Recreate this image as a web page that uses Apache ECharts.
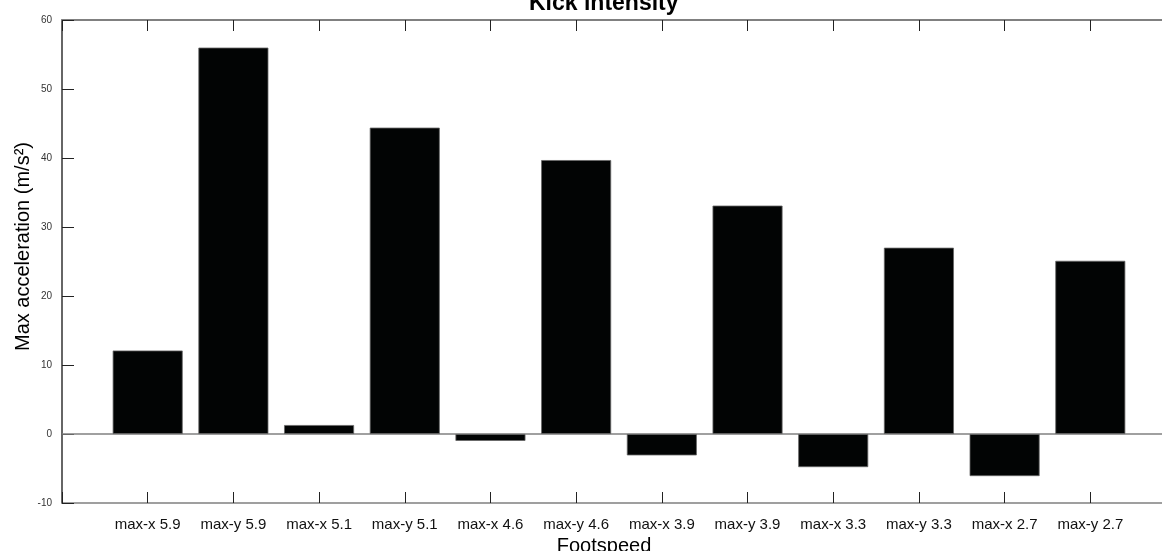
<!DOCTYPE html>
<html>
<head>
<meta charset="utf-8">
<script src="https://cdn.jsdelivr.net/npm/echarts@6/dist/echarts.min.js"></script>
<style>html,body{margin:0;padding:0;background:#fff}#c{width:1162px;height:551px}</style>
</head>
<body>
<div id="c"></div>
<script>
const categories = ['max-x 5.9','max-y 5.9','max-x 5.1','max-y 5.1','max-x 4.6','max-y 4.6','max-x 3.9','max-y 3.9','max-x 3.3','max-y 3.3','max-x 2.7','max-y 2.7'];
const values = [12.1, 56.0, 1.3, 44.4, -1.0, 39.7, -3.1, 33.1, -4.8, 27.0, -6.1, 25.1];
const yTicks = [-10, 0, 10, 20, 30, 40, 50, 60];

const FONT = "'Liberation Sans', Arial, sans-serif";
const chart = echarts.init(document.getElementById('c'), null, {renderer: 'canvas'});
const barData = values.map((v, i) => [i + 1, v]);

chart.setOption({
  animation: false,
  backgroundColor: '#fff',
  title: {
    text: 'Kick intensity',
    left: 524, top: -13,
    textStyle: {fontFamily: FONT, fontSize: 23, fontWeight: 'bold', color: '#000'}
  },
  grid: {left: 62, top: 20, right: -14, bottom: 48, outerBoundsMode: 'none'},
  xAxis: [{
    type: 'value', min: 0, max: categories.length + 1, interval: 1,
    position: 'bottom',
    name: 'Footspeed', nameLocation: 'middle', nameGap: 28,
    nameTextStyle: {fontFamily: FONT, fontSize: 20, color: '#000', padding: [0, 30, 0, 0]},
    axisLine: {show: true, onZero: false, lineStyle: {color: '#808080', width: 1.5}},
    axisTick: {show: true, inside: true, length: 11, lineStyle: {color: '#222', width: 1}},
    axisLabel: {
      margin: 14, fontFamily: FONT, fontSize: 15, color: '#111',
      formatter: v => (v >= 1 && v <= categories.length) ? categories[v - 1] : ''
    },
    splitLine: {show: false}
  }, {
    type: 'value', min: 0, max: categories.length + 1, interval: 1,
    position: 'top',
    axisLine: {show: true, onZero: false, lineStyle: {color: '#808080', width: 2}},
    axisTick: {show: true, inside: true, length: 11, lineStyle: {color: '#222', width: 1}},
    axisLabel: {show: false},
    splitLine: {show: false}
  }],
  yAxis: {
    type: 'value', min: yTicks[0], max: yTicks[yTicks.length - 1], interval: 10,
    name: 'Max acceleration (m/s²)', nameLocation: 'middle', nameGap: 29,
    nameMoveOverlap: false,
    nameTextStyle: {fontFamily: FONT, fontSize: 20, color: '#000', padding: [0, 0, 0, 30]},
    axisLine: {show: true, onZero: false, lineStyle: {color: '#333', width: 1.5}},
    axisTick: {show: true, inside: true, length: 12, lineStyle: {color: '#222', width: 1}},
    axisLabel: {margin: 10, fontFamily: FONT, fontSize: 10, color: '#333'},
    splitLine: {show: false}
  },
  series: [{
    type: 'bar',
    data: barData,
    barWidth: 70,
    itemStyle: {color: '#020404', borderColor: '#666', borderWidth: 0.8},
    z: 3,
    markLine: {
      silent: true, symbol: ['none', 'none'], label: {show: false},
      lineStyle: {color: '#808080', width: 1.5, type: 'solid'},
      data: [{yAxis: 0}],
      z: 2
    }
  }]
});
</script>
</body>
</html>
